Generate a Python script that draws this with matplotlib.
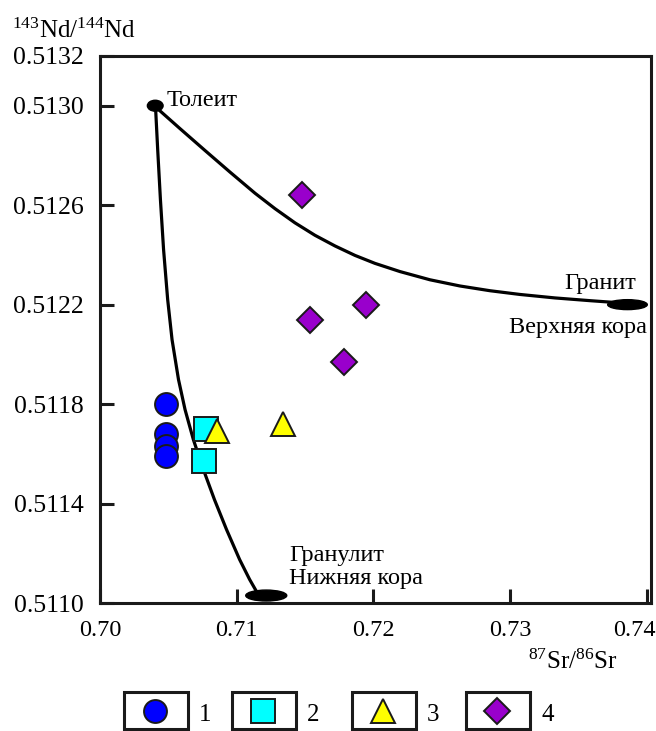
import matplotlib
matplotlib.use('Agg')
import matplotlib.pyplot as plt
import matplotlib.transforms as mtransforms
from matplotlib.patches import Ellipse, Rectangle

plt.rcParams['font.family'] = ['Liberation Serif', 'DejaVu Serif']
plt.rcParams['mathtext.fontset'] = 'custom'
plt.rcParams['mathtext.rm'] = 'Liberation Serif'
plt.rcParams['mathtext.default'] = 'regular'

# sample groups (87Sr/86Sr, 143Nd/144Nd)
g1_sr = [0.7048, 0.7048, 0.7048, 0.7048]
g1_nd = [0.51180, 0.51168, 0.51163, 0.51159]
g2_sr = [0.70775, 0.70760]
g2_nd = [0.51170, 0.51157]
g3_sr = [0.70853, 0.71340]
g3_nd = [0.51169, 0.51172]
g4_sr = [0.71479, 0.71536, 0.71945, 0.71782]
g4_nd = [0.51264, 0.51214, 0.51220, 0.51197]
group_names = ['1', '2', '3', '4']

# end members
tholeiite = (0.70404, 0.51300)
granite = (0.73858, 0.51220)
granulite = (0.71216, 0.51103)

# mixing curves
upper_sr = [0.70415, 0.70585, 0.70768, 0.70951, 0.71134, 0.71280, 0.71426,
            0.71572, 0.71719, 0.71865, 0.72011, 0.72194, 0.72413, 0.72633,
            0.72852, 0.73071, 0.73327, 0.73583, 0.73861]
upper_nd = [0.512991, 0.512908, 0.512820, 0.512733, 0.512648, 0.512586, 0.512529,
            0.512479, 0.512436, 0.512398, 0.512366, 0.512333, 0.512300, 0.512275,
            0.512256, 0.512241, 0.512227, 0.512216, 0.512205]
lower_sr = [0.70406, 0.70422, 0.70442, 0.70465, 0.70495, 0.70527, 0.70574,
            0.70622, 0.70683, 0.70756, 0.70837, 0.70925, 0.71021, 0.71094, 0.71170]
lower_nd = [0.512996, 0.512823, 0.512622, 0.512421, 0.512220, 0.512059, 0.511899,
            0.511778, 0.511657, 0.511537, 0.511416, 0.511296, 0.511175, 0.511095, 0.511022]

yticks = [0.5110, 0.5114, 0.5118, 0.5122, 0.5126, 0.5130, 0.5132]
xticks = [0.70, 0.71, 0.72, 0.73, 0.74]

edge = '#1a1a1a'
styles = [
    dict(marker='o', ms=16.5, mfc='#0000ff'),
    dict(marker='s', ms=17, mfc='#00ffff'),
    dict(marker='^', ms=17.5, mfc='#ffff00'),
    dict(marker='D', ms=13.5, mfc='#9900cc'),
]

fig = plt.figure(figsize=(6.56, 7.31), dpi=100)
ax = fig.add_axes([100/656, 1-603/731, 551/656, 547/731])

ax.plot(upper_sr, upper_nd, color='black', lw=2.3, solid_capstyle='round',
        solid_joinstyle='round', zorder=2)
ax.plot(lower_sr, lower_nd, color='black', lw=2.3, solid_capstyle='round',
        solid_joinstyle='round', zorder=2)

ax.add_patch(Ellipse(tholeiite, 0.00115, 0.000044, color='black', zorder=3))
ax.add_patch(Ellipse(granite, 0.0029, 0.00004, color='black', zorder=3))
ax.add_patch(Ellipse(granulite, 0.0030, 0.000044, color='black', zorder=3))

groups = [(g1_sr, g1_nd), (g2_sr, g2_nd), (g3_sr, g3_nd), (g4_sr, g4_nd)]
for (xs, ys), st in zip(groups, styles):
    ax.plot(xs, ys, ls='none', mec=edge, mew=1.4, zorder=4, **st)

tsize = 17.5
ax.annotate('Толеит', tholeiite, xytext=(11, 0), textcoords='offset pixels',
            fontsize=tsize, va='baseline', ha='left')
ax.annotate('Гранит', granite, xytext=(9, 16), textcoords='offset pixels',
            fontsize=tsize, va='baseline', ha='right')
ax.annotate('Верхняя кора', granite, xytext=(20, -28), textcoords='offset pixels',
            fontsize=tsize, va='baseline', ha='right')
ax.annotate('Гранулит', granulite, xytext=(23, 35), textcoords='offset pixels',
            fontsize=tsize, va='baseline', ha='left')
ax.annotate('Нижняя кора', granulite, xytext=(23, 12), textcoords='offset pixels',
            fontsize=tsize, va='baseline', ha='left')

ax.set_xlim(0.70, 0.7403)
ax.set_ylim(0.5110, 0.5132)
ax.set_xticks(xticks)
ax.set_xticklabels(['%.2f' % v for v in xticks])
ax.set_yticks(yticks)
ax.set_yticklabels(['%.4f' % v for v in yticks])
ax.tick_params(direction='in', length=10, width=2.2, color='#1a1a1a')
ax.tick_params(axis='y', pad=12, labelsize=18.5)
ax.tick_params(axis='x', pad=12, labelsize=17.5)
for s in ax.spines.values():
    s.set_linewidth(2.2)
    s.set_color('#1a1a1a')

# last x label sits a little left of its tick, as in the source figure
last = ax.get_xticklabels()[-1]
last.set_transform(last.get_transform() +
                   mtransforms.ScaledTranslation(-13/100, 0, fig.dpi_scale_trans))

fig.text(12/656, 1-38/731, r'$^{143}$Nd/$^{144}$Nd', fontsize=18, va='baseline', ha='left')
fig.text(618/656, 1-669/731, r'$^{87}$Sr/$^{86}$Sr', fontsize=18, va='baseline', ha='right')

# boxed legend along the bottom
lax = fig.add_axes([0, 0, 1, 1])
lax.set_xlim(0, 656)
lax.set_ylim(731, 0)
lax.set_axis_off()
box_left = [124, 232, 352, 466]
for bx, st, name in zip(box_left, styles, group_names):
    lax.add_patch(Rectangle((bx, 692), 64, 37, fill=False, lw=2.2, ec='#1a1a1a'))
    lax.plot([bx + 31], [711], ls='none', mec=edge, mew=1.4, **st)
    lax.text(bx + 75, 721, name, fontsize=18, va='baseline', ha='left')

fig.savefig('out.png', dpi=100)
